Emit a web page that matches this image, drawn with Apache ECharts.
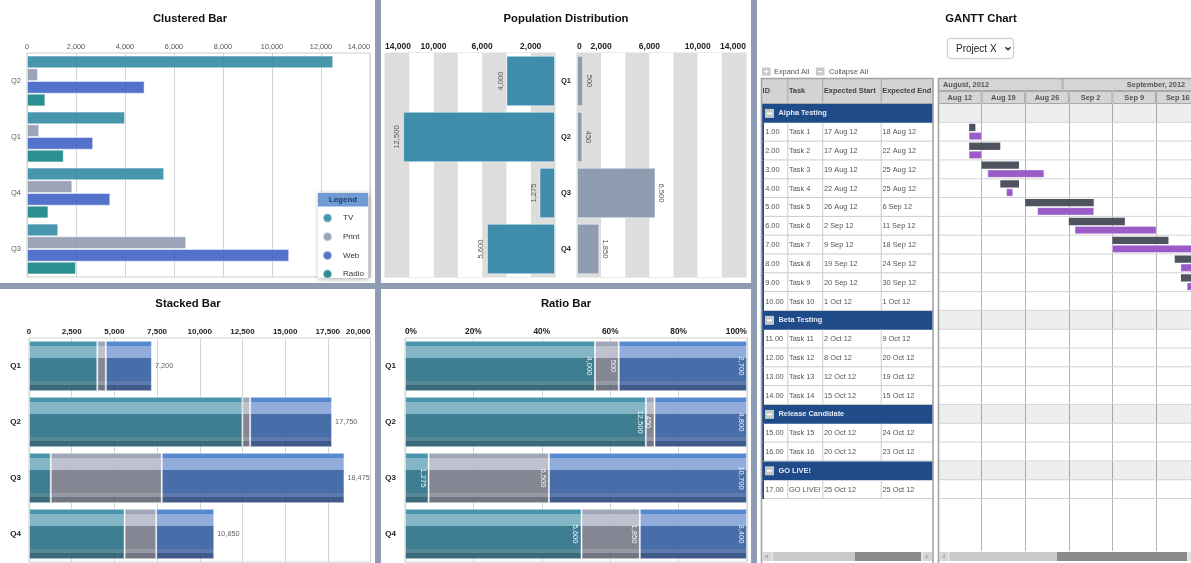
<!DOCTYPE html>
<html><head><meta charset="utf-8">
<script src="https://cdn.jsdelivr.net/npm/echarts@6/dist/echarts.min.js"></script>
<style>html,body{margin:0;padding:0;background:#fff;overflow:hidden}#c{width:1191px;height:563px}</style>
</head><body><div id="c"></div>
<script>
// ---------- DATA ----------
const quarters = ['Q1','Q2','Q3','Q4'];
const clusteredOrder = ['Q2','Q1','Q4','Q3'];
const mediaNames = ['TV','Print','Web','Radio'];
const tv = [4000, 12500, 1275, 5600];
const print = [500, 450, 6500, 1850];
const web = [2700, 4800, 10700, 3400];
const radio = [1500, 750, 2000, 875];
const clusteredTicks = [0,2000,4000,6000,8000,10000,12000,14000];
const popLeftTickLabels = [2000, 6000, 10000, 14000];
const popRightTickLabels = [0, 2000, 6000, 10000, 14000];

const groups = ['Alpha Testing','Beta Testing','Release Candidate','GO LIVE!'];
const taskIds = ['1.00','2.00','3.00','4.00','5.00','6.00','7.00','8.00','9.00','10.00','11.00','12.00','13.00','14.00','15.00','16.00','17.00'];
const taskNames = ['Task 1','Task 2','Task 3','Task 4','Task 5','Task 6','Task 7','Task 8','Task 9','Task 10','Task 11','Task 12','Task 13','Task 14','Task 15','Task 16','GO LIVE!'];
const taskGroup = [0,0,0,0,0,0,0,0,0,0,1,1,1,1,2,2,3];
const expStart = ['2012-08-17','2012-08-17','2012-08-19','2012-08-22','2012-08-26','2012-09-02','2012-09-09','2012-09-19','2012-09-20','2012-10-01','2012-10-02','2012-10-08','2012-10-12','2012-10-15','2012-10-20','2012-10-20','2012-10-25'];
const expEnd = ['2012-08-18','2012-08-22','2012-08-25','2012-08-25','2012-09-06','2012-09-11','2012-09-18','2012-09-24','2012-09-30','2012-10-01','2012-10-09','2012-10-20','2012-10-19','2012-10-15','2012-10-24','2012-10-23','2012-10-25'];
const actStart = ['2012-08-17','2012-08-17','2012-08-20','2012-08-23','2012-08-28','2012-09-03','2012-09-09','2012-09-20','2012-09-21',null,null,null,null,null,null,null,null];
const actEnd = ['2012-08-19','2012-08-19','2012-08-29','2012-08-24','2012-09-06','2012-09-16','2012-09-23','2012-09-27','2012-10-01',null,null,null,null,null,null,null,null];
const weekStarts = ['2012-08-12','2012-08-19','2012-08-26','2012-09-02','2012-09-09','2012-09-16','2012-09-23'];
const monthStarts = ['2012-08-01','2012-09-01','2012-10-01','2012-11-01'];
const monthLabels = ['August, 2012','September, 2012','October, 2012'];
const colHeaders = ['ID','Task','Expected Start','Expected End'];
const projectName = 'Project X';

// ---------- HELPERS ----------
const FONT = '"Liberation Sans", Arial, sans-serif';
const fmt = v => Number(v).toLocaleString('en-US');
const MON = ['Jan','Feb','Mar','Apr','May','Jun','Jul','Aug','Sep','Oct','Nov','Dec'];
const VIEW_START = weekStarts[0];
const ymd = s => Date.UTC(+s.slice(0,4), +s.slice(5,7)-1, +s.slice(8,10));
const dayOf = s => (ymd(s) - ymd(VIEW_START)) / 86400000;
const fmtDate = s => (+s.slice(8,10)) + ' ' + MON[+s.slice(5,7)-1] + ' ' + s.slice(2,4);
const weekLabel = s => MON[+s.slice(5,7)-1] + ' ' + (+s.slice(8,10));
const idx = q => quarters.indexOf(q);
const totals = quarters.map((q,i) => tv[i] + print[i] + web[i]);
const pct = arr => arr.map((v,i) => v / totals[i] * 100);

const C = {tv:'#2f88a3', print:'#8e98ad', web:'#3b5fc2', radio:'#0d7f82'};
const SEP = '#8f9db4';
const BLUE = '#1f4b88';

function gloss(c) {
  const s = [[0,c[0]],[0.1,c[0]],[0.1,c[1]],[0.35,c[1]],[0.35,c[2]],[0.8,c[2]],[0.8,c[3]],[0.88,c[3]],[0.88,c[4]],[1,c[4]]];
  return new echarts.graphic.LinearGradient(0,0,0,1,s.map(p => ({offset:p[0], color:p[1]})));
}
const GL = {
  tv: gloss(['#3b8ba7','#7ab0c1','#307489','#4b7f90','#2c5f70']),
  print: gloss(['#979fb3','#b9bdca','#7b7e8b','#8f929e','#676b79']),
  web: gloss(['#4a80cc','#89a6d8','#3a63a3','#5070a6','#324f82'])
};

// gantt rows
const rows = [];
groups.forEach((g, gi) => {
  rows.push({kind:'group', gi});
  taskGroup.forEach((tg, ti) => { if (tg === gi) rows.push({kind:'task', ti}); });
});
const ROW_H = 18.81;
const BODY_H = 447;
const DAYS_VIEW = 49;
const DAY_PX = 6.229;

// ---------- CHART ----------
const chart = echarts.init(document.getElementById('c'), null, {renderer:'canvas'});

const titleBase = {textAlign:'center', padding:0, textStyle:{fontSize:11.3, fontWeight:'bold', color:'#111', fontFamily:FONT}};
const noAxis = {axisLine:{show:false}, axisTick:{show:false}};

const valueLabel = {fontFamily:FONT};

function clusteredSeries(name, arr, color) {
  return {
    name, type:'bar', xAxisIndex:0, yAxisIndex:0,
    data: clusteredOrder.map(q => arr[idx(q)]),
    barWidth: 12.7, barGap:'0%',
    itemStyle:{color, opacity:0.88, borderColor:'rgba(255,255,255,0.55)', borderWidth:1},
    emphasis:{disabled:true}
  };
}

function stackSeries(name, arr, color, axis, stack, label) {
  return {
    name, type:'bar', stack, xAxisIndex:axis, yAxisIndex:axis,
    data: arr, barWidth:'90%',
    itemStyle:{color, opacity:0.93, borderColor:'rgba(255,255,255,0.5)', borderWidth:1},
    label, emphasis:{disabled:true}
  };
}

const ratioLabel = raw => ({
  show:true, position:'insideRight', rotate:-90, align:'center', verticalAlign:'top', distance:2,
  color:'#fff', fontSize:7.6, fontFamily:FONT, formatter: p => fmt(raw[p.dataIndex])
});

// gantt custom renderers
function renderTableRow(params, api) {
  const r = api.value(1);
  const row = rows[r];
  const cs = params.coordSys;
  const y0 = api.coord([0, r])[1], y1 = api.coord([0, r + 1])[1], h = y1 - y0;
  const x0 = cs.x, w = cs.width;
  const COLS = [3, 26.3, 61.3, 119.7];
  const ch = [];
  if (row.kind === 'group') {
    ch.push({type:'rect', shape:{x:x0, y:y0, width:w, height:h}, style:{fill:BLUE}});
    ch.push({type:'rect', shape:{x:x0+4, y:y0+h/2-4.5, width:9, height:9}, style:{fill:'#c8c8c8'}});
    ch.push({type:'rect', shape:{x:x0+6, y:y0+h/2-0.8, width:5, height:1.6}, style:{fill:'#fff'}});
    ch.push({type:'text', x:x0+17.5, y:y0+h/2, style:{text:groups[row.gi], fill:'#e4ebf6', fontSize:7.4, fontWeight:'bold', fontFamily:FONT, verticalAlign:'middle'}});
  } else {
    const t = row.ti;
    const vals = [taskIds[t], taskNames[t], fmtDate(expStart[t]), fmtDate(expEnd[t])];
    ch.push({type:'rect', shape:{x:x0, y:y0, width:3, height:h}, style:{fill:BLUE}});
    ch.push({type:'line', shape:{x1:x0+3, y1:y1-0.5, x2:x0+w, y2:y1-0.5}, style:{stroke:'#cbcbcb', lineWidth:1}});
    COLS.slice(1).forEach(cx => ch.push({type:'line', shape:{x1:x0+cx+0.5, y1:y0, x2:x0+cx+0.5, y2:y1}, style:{stroke:'#cbcbcb', lineWidth:1}}));
    vals.forEach((v, k) => ch.push({type:'text', x:x0+COLS[k]+(k===0?1.2:1.7), y:y0+h/2, style:{text:v, fill:'#555', fontSize:7.4, fontFamily:FONT, verticalAlign:'middle'}}));
  }
  return {type:'group', children:ch};
}

function renderGanttRow(params, api) {
  const r = api.value(1);
  const row = rows[r];
  const cs = params.coordSys;
  const y0 = api.coord([0, r])[1], y1 = api.coord([0, r + 1])[1];
  const ch = [];
  if (row.kind === 'group') ch.push({type:'rect', shape:{x:cs.x, y:y0, width:cs.width, height:y1-y0}, style:{fill:'rgba(0,0,0,0.065)'}});
  ch.push({type:'line', shape:{x1:cs.x, y1:y1-0.5, x2:cs.x+cs.width, y2:y1-0.5}, style:{stroke:'#d4d4d4', lineWidth:1}});
  return {type:'group', children:ch};
}

function renderGanttBar(params, api) {
  const s = api.value(0), r = api.value(1), e = api.value(2), k = api.value(3);
  const p0 = api.coord([s, r]), p1 = api.coord([e, r]);
  const cs = params.coordSys;
  const rect = echarts.graphic.clipRectByRect(
    {x:p0[0], y:p0[1] + (k ? 9.6 : 1), width:p1[0]-p0[0], height:7.3},
    {x:cs.x, y:cs.y, width:cs.width, height:cs.height});
  if (!rect) return null;
  return {type:'rect', shape:rect, style:{fill: k ? '#9b5cc8' : '#4f535f', stroke: k ? 'rgba(255,255,255,0.35)' : null}};
}

function headerRenderer(labels) {
  return function(params, api) {
    const s = api.value(0), r = api.value(1), e = api.value(2);
    const p0 = api.coord([s, r]), p1 = api.coord([e, r + 1]);
    const cs = params.coordSys;
    const rect = echarts.graphic.clipRectByRect(
      {x:p0[0], y:p0[1], width:p1[0]-p0[0], height:p1[1]-p0[1]},
      {x:cs.x, y:cs.y, width:cs.width, height:cs.height});
    if (!rect) return null;
    return {type:'group', children:[
      {type:'rect', shape:{x:rect.x+0.5, y:rect.y+0.5, width:rect.width-1, height:rect.height-1}, style:{fill:'#d5d5d5', stroke:'#a9a9a9', lineWidth:1}},
      {type:'text', x:(p0[0]+p1[0])/2, y:(p0[1]+p1[1])/2, style:{text:labels[params.dataIndex], fill:'#555', fontSize:7.4, fontWeight:'bold', fontFamily:FONT, align:'center', verticalAlign:'middle'}}
    ]};
  };
}

const barData = [];
expStart.forEach((s, t) => {
  const r = rows.findIndex(x => x.kind === 'task' && x.ti === t);
  barData.push([dayOf(s), r, dayOf(expEnd[t]), 0]);
  if (actStart[t]) barData.push([dayOf(actStart[t]), r, dayOf(actEnd[t]), 1]);
});

// graphic layout elements
const graphics = [
  {type:'rect', shape:{x:375, y:0, width:6, height:563}, style:{fill:SEP}, z:50},
  {type:'rect', shape:{x:0, y:283, width:751, height:6}, style:{fill:SEP}, z:50},
  {type:'rect', shape:{x:751, y:0, width:6, height:563}, style:{fill:SEP}, z:50},
  // legend box
  {type:'rect', shape:{x:318, y:193, width:50, height:85}, style:{fill:'#fff', shadowBlur:5, shadowColor:'rgba(0,0,0,0.35)', shadowOffsetX:1, shadowOffsetY:1}, z:3},
  {type:'rect', shape:{x:318, y:193, width:50, height:13.5}, style:{fill:'#6f9bd2'}, z:3},
  {type:'text', x:343, y:200, style:{text:'Legend', fill:'#1d3b6b', fontSize:8, fontWeight:'bold', fontFamily:FONT, align:'center', verticalAlign:'middle'}, z:3},
  // select
  {type:'rect', shape:{x:947.5, y:38.5, width:66, height:20, r:3}, style:{fill:'#fff', stroke:'#cfcfcf', lineWidth:1, shadowBlur:2, shadowColor:'rgba(0,0,0,0.1)'}, z:5},
  {type:'text', x:956, y:49, style:{text:projectName, fill:'#222', fontSize:10, fontFamily:FONT, verticalAlign:'middle'}, z:5},
  {type:'polyline', shape:{points:[[1005.5,47.3],[1008,49.8],[1010.5,47.3]]}, style:{stroke:'#222', lineWidth:1.4, fill:null}, z:5},
  // expand / collapse
  {type:'rect', shape:{x:762, y:67.5, width:8.5, height:8}, style:{fill:'#c8c8c8'}, z:5},
  {type:'rect', shape:{x:764, y:71, width:4.5, height:1.2}, style:{fill:'#fff'}, z:6},
  {type:'rect', shape:{x:765.65, y:69.3, width:1.2, height:4.5}, style:{fill:'#fff'}, z:6},
  {type:'text', x:774, y:71.5, style:{text:'Expand All', fill:'#555', fontSize:7.4, fontFamily:FONT, verticalAlign:'middle'}, z:5},
  {type:'rect', shape:{x:816, y:67.5, width:8.5, height:8}, style:{fill:'#c8c8c8'}, z:5},
  {type:'rect', shape:{x:818, y:71, width:4.5, height:1.2}, style:{fill:'#fff'}, z:6},
  {type:'text', x:829, y:71.5, style:{text:'Collapse All', fill:'#555', fontSize:7.4, fontFamily:FONT, verticalAlign:'middle'}, z:5},
  // table header
  {type:'rect', shape:{x:761, y:78, width:172, height:26}, style:{fill:'#d3d3d3'}, z:5},
  {type:'line', shape:{x1:761, y1:103.5, x2:933, y2:103.5}, style:{stroke:'#a8a8a8', lineWidth:1}, z:6},
  // frames
  {type:'rect', shape:{x:761.5, y:78.5, width:171.5, height:490}, style:{fill:null, stroke:'#a4a4a4', lineWidth:1.6}, z:40},
  {type:'rect', shape:{x:938.5, y:78.5, width:300, height:490}, style:{fill:null, stroke:'#a4a4a4', lineWidth:1.6}, z:40},
  // scrollbars
  {type:'rect', shape:{x:762, y:552, width:170, height:9}, style:{fill:'#e4e4e4'}, z:41},
  {type:'rect', shape:{x:762, y:552, width:9, height:9}, style:{fill:'#d6d6d6'}, z:41},
  {type:'polygon', shape:{points:[[768,554.5],[765,556.5],[768,558.5]]}, style:{fill:'#aaa'}, z:42},
  {type:'rect', shape:{x:773, y:552, width:82, height:9}, style:{fill:'#c9c9c9'}, z:41},
  {type:'rect', shape:{x:855, y:552, width:66, height:9}, style:{fill:'#8a8a8a'}, z:41},
  {type:'rect', shape:{x:923, y:552, width:9, height:9}, style:{fill:'#d6d6d6'}, z:41},
  {type:'polygon', shape:{points:[[926,554.5],[929,556.5],[926,558.5]]}, style:{fill:'#aaa'}, z:42},
  {type:'rect', shape:{x:939, y:552, width:252, height:9}, style:{fill:'#e4e4e4'}, z:41},
  {type:'rect', shape:{x:939, y:552, width:8.5, height:9}, style:{fill:'#d6d6d6'}, z:41},
  {type:'polygon', shape:{points:[[945,554.5],[942,556.5],[945,558.5]]}, style:{fill:'#aaa'}, z:42},
  {type:'rect', shape:{x:949.5, y:552, width:107.5, height:9}, style:{fill:'#c9c9c9'}, z:41},
  {type:'rect', shape:{x:1057, y:552, width:130, height:9}, style:{fill:'#8a8a8a'}, z:41}
];
const COLS_H = [0, 26.3, 61.3, 119.7];
colHeaders.forEach((h, k) => {
  graphics.push({type:'text', x:761 + COLS_H[k] + 1.6, y:91, style:{text:h, fill:'#444', fontSize:7.4, fontWeight:'bold', fontFamily:FONT, verticalAlign:'middle'}, z:6});
  if (k > 0) graphics.push({type:'line', shape:{x1:761+COLS_H[k]+0.5, y1:78, x2:761+COLS_H[k]+0.5, y2:104}, style:{stroke:'#a8a8a8', lineWidth:1}, z:6});
});

const gridBase = {outerBoundsMode:'none', containLabel:false};

const option = {
  animation:false,
  textStyle:{fontFamily:FONT},
  title:[
    Object.assign({text:'Clustered Bar', left:190, top:13.5}, titleBase),
    Object.assign({text:'Population Distribution', left:566, top:13.5}, titleBase),
    Object.assign({text:'Stacked Bar', left:188, top:298.5}, titleBase),
    Object.assign({text:'Ratio Bar', left:566, top:298}, titleBase),
    Object.assign({text:'GANTT Chart', left:981, top:13.5}, titleBase)
  ],
  legend:{
    data:mediaNames, orient:'vertical', left:322, top:212.5, itemWidth:9, itemHeight:9, itemGap:7.7,
    icon:'circle', selectedMode:false, padding:0,
    textStyle:{fontSize:8, color:'#333', fontFamily:FONT, padding:[0,0,0,6]}
  },
  grid:[
    Object.assign({left:27, top:53, width:343, height:224, show:true, borderColor:'#cfcfcf', borderWidth:1}, gridBase),
    Object.assign({left:385, top:53, width:170, height:224, show:true, borderColor:'#d8d8d8', borderWidth:1}, gridBase),
    Object.assign({left:577, top:53, width:169, height:224, show:true, borderColor:'#d8d8d8', borderWidth:1}, gridBase),
    Object.assign({left:29, top:338, width:341.5, height:224, show:true, borderColor:'#cfcfcf', borderWidth:1}, gridBase),
    Object.assign({left:405, top:338, width:342, height:224, show:true, borderColor:'#cfcfcf', borderWidth:1}, gridBase),
    Object.assign({left:938, top:78, width:DAYS_VIEW*DAY_PX, height:26}, gridBase),
    Object.assign({left:938, top:104, width:DAYS_VIEW*DAY_PX, height:BODY_H}, gridBase),
    Object.assign({left:761, top:104, width:172, height:BODY_H}, gridBase)
  ],
  xAxis:[
    Object.assign({gridIndex:0, type:'value', position:'top', min:0, max:14000, interval:2000,
      splitLine:{lineStyle:{color:'#d4d4d4'}},
      axisLabel:{formatter:fmt, fontSize:7.3, color:'#555', margin:3, alignMaxLabel:'right'}}, noAxis),
    Object.assign({gridIndex:1, type:'value', position:'top', min:0, max:14000, interval:2000, inverse:true,
      splitLine:{show:false}, splitArea:{show:true, areaStyle:{color:['#dddddd','#ffffff']}},
      axisLabel:{formatter:v => popLeftTickLabels.includes(v) ? fmt(v) : '', fontSize:8.5, fontWeight:'bold', color:'#222', margin:2, alignMaxLabel:'left', showMinLabel:true, showMaxLabel:true}}, noAxis),
    Object.assign({gridIndex:2, type:'value', position:'top', min:0, max:14000, interval:2000,
      splitLine:{show:false}, splitArea:{show:true, areaStyle:{color:['#dddddd','#ffffff']}},
      axisLabel:{formatter:v => popRightTickLabels.includes(v) ? fmt(v) : '', fontSize:8.5, fontWeight:'bold', color:'#222', margin:2, alignMinLabel:'left', alignMaxLabel:'right', showMinLabel:true, showMaxLabel:true}}, noAxis),
    Object.assign({gridIndex:3, type:'value', position:'top', min:0, max:20000, interval:2500,
      splitLine:{lineStyle:{color:'#d4d4d4'}},
      axisLabel:{formatter:fmt, fontSize:8, fontWeight:'bold', color:'#222', margin:2, alignMaxLabel:'right'}}, noAxis),
    Object.assign({gridIndex:4, type:'value', position:'top', min:0, max:100, interval:20,
      splitLine:{lineStyle:{color:'#d4d4d4'}},
      axisLabel:{formatter:v => v + '%', fontSize:8.3, fontWeight:'bold', color:'#222', margin:2, alignMinLabel:'left', alignMaxLabel:'right'}}, noAxis),
    {gridIndex:5, type:'value', min:0, max:DAYS_VIEW, show:false},
    Object.assign({gridIndex:6, type:'value', min:0, max:DAYS_VIEW, interval:7, axisLabel:{show:false},
      splitLine:{show:true, lineStyle:{color:'#b3b3b3', width:1}}}, noAxis),
    {gridIndex:7, type:'value', min:0, max:1, show:false}
  ],
  yAxis:[
    Object.assign({gridIndex:0, type:'category', data:clusteredOrder, inverse:true,
      axisLabel:{fontSize:7.5, color:'#555', margin:6}}, noAxis),
    Object.assign({gridIndex:1, type:'category', data:quarters, inverse:true, axisLabel:{show:false}}, noAxis),
    Object.assign({gridIndex:2, type:'category', data:quarters, inverse:true,
      axisLabel:{fontSize:7.5, fontWeight:'bold', color:'#222', margin:6}}, noAxis),
    Object.assign({gridIndex:3, type:'category', data:quarters, inverse:true,
      axisLabel:{fontSize:8, fontWeight:'bold', color:'#222', margin:8}}, noAxis),
    Object.assign({gridIndex:4, type:'category', data:quarters, inverse:true,
      axisLabel:{fontSize:8, fontWeight:'bold', color:'#222', margin:9}}, noAxis),
    {gridIndex:5, type:'value', min:0, max:2, inverse:true, show:false},
    {gridIndex:6, type:'value', min:0, max:BODY_H/ROW_H, inverse:true, show:false, splitLine:{show:false}},
    {gridIndex:7, type:'value', min:0, max:BODY_H/ROW_H, inverse:true, show:false, splitLine:{show:false}}
  ],
  series:[
    clusteredSeries('TV', tv, C.tv),
    clusteredSeries('Print', print, C.print),
    clusteredSeries('Web', web, C.web),
    clusteredSeries('Radio', radio, C.radio),
    {name:'popTV', type:'bar', xAxisIndex:1, yAxisIndex:1, data:tv, barWidth:'90%',
      itemStyle:{color:'#3f8cab', borderColor:'rgba(255,255,255,0.45)', borderWidth:1}, emphasis:{disabled:true},
      label:{show:true, position:'left', rotate:90, align:'center', verticalAlign:'bottom', distance:2, color:'#555', fontSize:7.6, fontFamily:FONT, formatter:p => fmt(p.value)}},
    {name:'popPrint', type:'bar', xAxisIndex:2, yAxisIndex:2, data:print, barWidth:'90%',
      itemStyle:{color:'#8f9bb1', borderColor:'rgba(255,255,255,0.45)', borderWidth:1}, emphasis:{disabled:true},
      label:{show:true, position:'right', rotate:-90, align:'center', verticalAlign:'bottom', distance:2, color:'#555', fontSize:7.6, fontFamily:FONT, formatter:p => fmt(p.value)}},
    stackSeries('sTV', tv, GL.tv, 3, 'st'),
    stackSeries('sPrint', print, GL.print, 3, 'st'),
    stackSeries('sWeb', web, GL.web, 3, 'st', {show:true, position:'right', distance:3, color:'#555', fontSize:7.3, fontFamily:FONT, formatter:p => fmt(totals[p.dataIndex])}),
    stackSeries('rTV', pct(tv), GL.tv, 4, 'rt', ratioLabel(tv)),
    stackSeries('rPrint', pct(print), GL.print, 4, 'rt', ratioLabel(print)),
    stackSeries('rWeb', pct(web), GL.web, 4, 'rt', ratioLabel(web)),
    // gantt header
    {type:'custom', name:'months', coordinateSystem:'cartesian2d', xAxisIndex:5, yAxisIndex:5, silent:true,
      data: monthLabels.map((m, i) => [dayOf(monthStarts[i]), 0, dayOf(monthStarts[i+1])]),
      encode:{x:[0,2], y:1}, renderItem: headerRenderer(monthLabels)},
    {type:'custom', name:'weeks', coordinateSystem:'cartesian2d', xAxisIndex:5, yAxisIndex:5, silent:true,
      data: weekStarts.map(w => [dayOf(w), 1, dayOf(w) + 7]),
      encode:{x:[0,2], y:1}, renderItem: headerRenderer(weekStarts.map(weekLabel))},
    // gantt rows + bars
    {type:'custom', name:'ganttRows', coordinateSystem:'cartesian2d', xAxisIndex:6, yAxisIndex:6, silent:true,
      data: rows.map((r, i) => [0, i]), encode:{x:0, y:1}, renderItem: renderGanttRow, z:2},
    {type:'custom', name:'ganttBars', coordinateSystem:'cartesian2d', xAxisIndex:6, yAxisIndex:6, silent:true,
      data: barData, encode:{x:[0,2], y:1}, renderItem: renderGanttBar, z:3},
    // table body
    {type:'custom', name:'table', coordinateSystem:'cartesian2d', xAxisIndex:7, yAxisIndex:7, silent:true,
      data: rows.map((r, i) => [0, i]), encode:{x:0, y:1}, renderItem: renderTableRow, z:3}
  ],
  graphic: graphics
};
chart.setOption(option);
</script></body></html>
